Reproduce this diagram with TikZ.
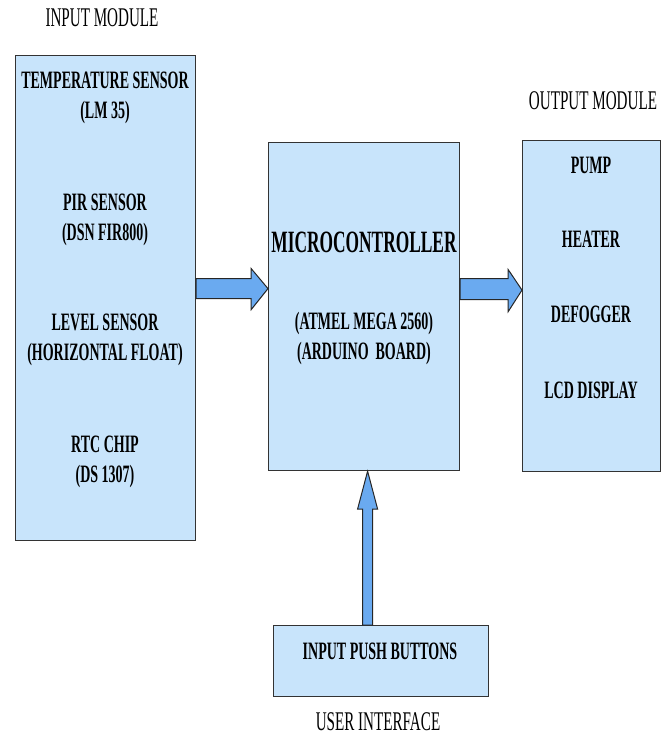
\documentclass[tikz,border=0pt]{standalone}
\usepackage{fontspec}
\usepackage{graphicx}
\setmainfont{Liberation Serif}
\usetikzlibrary{calc}
\definecolor{boxblue}{RGB}{200,228,251}
\definecolor{arrowblue}{RGB}{106,170,240}
\newcommand{\cond}[1]{\scalebox{0.56}[1]{\begin{tabular}{@{}c@{}}#1\end{tabular}}}
\tikzset{
  blockbox/.style={draw=black!80, line width=1.2pt, fill=boxblue, anchor=north west, inner sep=0pt},
  lbl/.style={font=\bfseries\fontsize{25}{30}\selectfont, inner sep=0pt},
  bigl/.style={font=\bfseries\fontsize{31}{36}\selectfont, inner sep=0pt},
  title/.style={font=\fontsize{27}{30}\selectfont, inner sep=0pt},
  barrow/.style={draw=black!85, line width=1pt, fill=arrowblue, line join=miter}
}
\begin{document}
\begin{tikzpicture}[x=1pt,y=-1pt]
\useasboundingbox (0,0) rectangle (662,736);
% boxes
\node[blockbox, minimum width=180pt, minimum height=485pt] (input) at (15,55) {};
\node[blockbox, minimum width=191pt, minimum height=328pt] (micro) at (268,142) {};
\node[blockbox, minimum width=138pt, minimum height=331pt] (output) at (522,140) {};
\node[blockbox, minimum width=215pt, minimum height=71pt] (buttons) at (273,625) {};
% titles
\node[title] (intitle) at (102,20) {\cond{INPUT MODULE}};
\node[title] (outtitle) at (593,103) {\cond{OUTPUT MODULE}};
\node[title] (uititle) at (378,724) {\cond{USER INTERFACE}};
% input module
\node[lbl] (temp) at (105,97) {\cond{TEMPERATURE SENSOR\\(LM 35)}};
\node[lbl] (pir) at (105,219) {\cond{PIR SENSOR\\(DSN FIR800)}};
\node[lbl] (level) at (105,339) {\cond{LEVEL SENSOR\\(HORIZONTAL FLOAT)}};
\node[lbl] (rtc) at (105,461) {\cond{RTC CHIP\\(DS 1307)}};
% microcontroller
\node[bigl] (mc) at (364,245) {\cond{MICROCONTROLLER}};
\node[lbl] (atmel) at (364,338) {\cond{(ATMEL MEGA 2560)\\(ARDUINO\ \ BOARD)}};
% output module
\node[lbl] (pump) at (591,167) {\cond{PUMP}};
\node[lbl] (heater) at (591,241) {\cond{HEATER}};
\node[lbl] (defog) at (591,316) {\cond{DEFOGGER}};
\node[lbl] (lcd) at (591,392) {\cond{LCD DISPLAY}};
\node[lbl] (push) at (380,653) {\cond{INPUT PUSH BUTTONS}};
% arrows
\draw[barrow] ($(input.east)+(0,-19.5)$) -- ++(55,0) -- ++(0,-10) -- ($(micro.west)+(0,-18)$)
  -- ($(input.east)+(55,11.5)$) -- ++(0,-11) -- ($(input.east)+(0,0.5)$) -- cycle;
\draw[barrow] ($(micro.east)+(0,-28)$) -- ++(48,0) -- ++(0,-9) -- ($(output.west)+(0,-16)$)
  -- ($(micro.east)+(48,5)$) -- ++(0,-12) -- ($(micro.east)+(0,-7)$) -- cycle;
\draw[barrow] ($(buttons.north)+(-18.5,0)$) -- ++(0,-116) -- ++(-5,0) -- ($(micro.south)+(3.5,0)$)
  -- ($(buttons.north)+(-3.5,-116)$) -- ++(-5,0) -- ($(buttons.north)+(-8.5,0)$) -- cycle;
\end{tikzpicture}
\end{document}
